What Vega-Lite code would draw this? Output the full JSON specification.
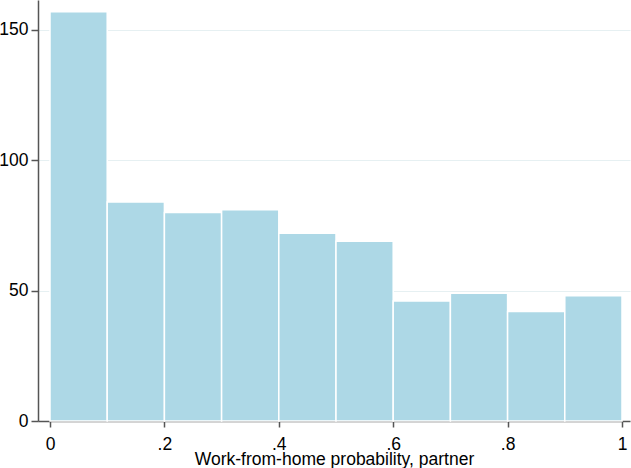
{
  "$schema": "https://vega.github.io/schema/vega-lite/v6.json",
  "width": 592,
  "height": 421,
  "autosize": {"type": "none"},
  "padding": {"left": 38, "top": 0, "right": 1, "bottom": 47},
  "background": "white",
  "config": {
    "view": {"stroke": null},
    "font": "Liberation Sans",
    "axis": {"labelFont": "Liberation Sans", "titleFont": "Liberation Sans"}
  },
  "data": {
    "values": [
      {"bin_start": 0.0, "bin_end": 0.1, "count": 157},
      {"bin_start": 0.1, "bin_end": 0.2, "count": 84},
      {"bin_start": 0.2, "bin_end": 0.3, "count": 80},
      {"bin_start": 0.3, "bin_end": 0.4, "count": 81},
      {"bin_start": 0.4, "bin_end": 0.5, "count": 72},
      {"bin_start": 0.5, "bin_end": 0.6, "count": 69},
      {"bin_start": 0.6, "bin_end": 0.7, "count": 46},
      {"bin_start": 0.7, "bin_end": 0.8, "count": 49},
      {"bin_start": 0.8, "bin_end": 0.9, "count": 42},
      {"bin_start": 0.9, "bin_end": 1.0, "count": 48}
    ]
  },
  "mark": {"type": "rect", "fill": "#add8e6", "stroke": "#ffffff", "strokeWidth": 1.5},
  "encoding": {
    "x": {
      "field": "bin_start",
      "type": "quantitative",
      "scale": {"domain": [-0.021, 1.014], "nice": false, "zero": false},
      "axis": {
        "values": [0, 0.2, 0.4, 0.6, 0.8, 1],
        "labelExpr": "datum.value == 0 ? '0' : datum.value == 1 ? '1' : replace(format(datum.value, '.1f'), '0.', '.')",
        "grid": false,
        "domainColor": "#555555",
        "domainWidth": 1.5,
        "tickColor": "#555555",
        "tickWidth": 1.5,
        "tickSize": 6,
        "labelFontSize": 17.5,
        "labelColor": "#000000",
        "labelBaseline": "alphabetic",
        "labelPadding": 22,
        "title": "Work-from-home probability, partner",
        "titleFontSize": 17.5,
        "titleFontWeight": "normal",
        "titleColor": "#000000",
        "titleBaseline": "alphabetic",
        "titleY": 43
      }
    },
    "x2": {"field": "bin_end"},
    "y": {
      "field": "count",
      "type": "quantitative",
      "scale": {"domain": [0, 161.5], "nice": false},
      "axis": {
        "values": [0, 50, 100, 150],
        "grid": true,
        "gridColor": "#e6f0f2",
        "gridWidth": 1,
        "domainColor": "#555555",
        "domainWidth": 1.5,
        "tickColor": "#555555",
        "tickWidth": 1.5,
        "tickSize": 7,
        "labelFontSize": 17.5,
        "labelColor": "#000000",
        "labelPadding": 3,
        "labelAngle": 0,
        "title": null
      }
    },
    "y2": {"datum": 0}
  }
}
